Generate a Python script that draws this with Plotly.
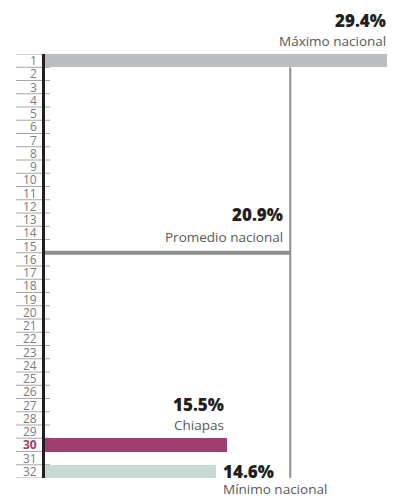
import plotly.graph_objects as go

# Data
rows = list(range(1, 33))
row_labels = [str(r) for r in rows]
max_value = 29.4
avg_value = 20.9
chiapas_value = 15.5
min_value = 14.6
max_row = 1
chiapas_row = 30
min_row = 32
avg_boundary = 15.5

FONT = "Open Sans"
OFF = 8  # page body margin
PLOT_W = 345
PLOT_H = 424
fig = go.Figure()

fig.add_trace(go.Bar(
    x=[max_value, chiapas_value, min_value],
    y=[max_row, chiapas_row, min_row],
    orientation="h", width=1,
    marker=dict(color=["#bcbdc0", "#9e3d6e", "#c8d8d2"], line=dict(width=0)),
    hoverinfo="skip", showlegend=False,
))

shapes = []
for k in range(0, 33):
    shapes.append(dict(type="line", xref="paper", yref="y",
                       x0=-29/PLOT_W, x1=5/PLOT_W, y0=k + 0.5, y1=k + 0.5,
                       line=dict(color="#a7a7a7", width=1.2), layer="below"))
shapes.append(dict(type="line", xref="x", yref="y", x0=0, x1=avg_value,
                   y0=avg_boundary, y1=avg_boundary,
                   line=dict(color="#8e8e90", width=4)))
shapes.append(dict(type="line", xref="x", yref="y", x0=avg_value, x1=avg_value,
                   y0=1.5, y1=32.5, line=dict(color="#8e8e90", width=2)))

annotations = []
for r, lab in zip(rows, row_labels):
    if r == chiapas_row:
        txt = f"<b>{lab}</b>"
        col = "#9e3d6e"
    else:
        txt = lab
        col = "#7b7b7b"
    annotations.append(dict(xref="paper", yref="y", x=0, y=r, text=txt,
                            xanchor="right", yanchor="middle", xshift=-6,
                            showarrow=False, font=dict(family=FONT, size=12, color=col)))

def ypaper(pix):
    # page pixel (from top) -> paper coordinate
    return (478 - pix) / PLOT_H

def ann(x, pix, text, bold=False, anchor="right", xshift=0):
    if bold:
        font = dict(family=FONT, size=17, color="#231f20", weight=800)
    else:
        font = dict(family=FONT, size=13.5, color="#58595b")
    annotations.append(dict(xref="x", yref="paper", x=x, y=ypaper(pix),
                            text=text, xanchor=anchor, yanchor="middle",
                            xshift=xshift, showarrow=False, font=font))

ann(max_value, 20.5, f"{max_value}%", True, "right", -2)
ann(max_value, 41, "Máximo nacional", False, "right", -2)
ann(avg_value, 214, f"{avg_value}%", True, "right", -5)
ann(avg_value, 237, "Promedio nacional", False, "right", -5)
ann(chiapas_value, 404, f"{chiapas_value}%", True, "right", -1)
ann(chiapas_value, 425, "Chiapas", False, "right", -1)
ann(min_value, 471, f"{min_value}%", True, "left", 5)
ann(min_value, 489, "Mínimo nacional", False, "left", 5)

fig.update_layout(
    width=395 - OFF, height=498 - OFF,
    margin=dict(l=45 - OFF, r=5, t=54 - OFF, b=20, pad=0),
    paper_bgcolor="white", plot_bgcolor="white",
    xaxis=dict(range=[0, max_value], showgrid=False, zeroline=False,
               showticklabels=False, showline=False, fixedrange=True),
    yaxis=dict(range=[32.5, 0.5], showgrid=False, zeroline=False,
               showticklabels=False, showline=True, linecolor="#231f20",
               linewidth=2.5, fixedrange=True),
    shapes=shapes, annotations=annotations, bargap=0,
)

fig.write_html("out.html")
